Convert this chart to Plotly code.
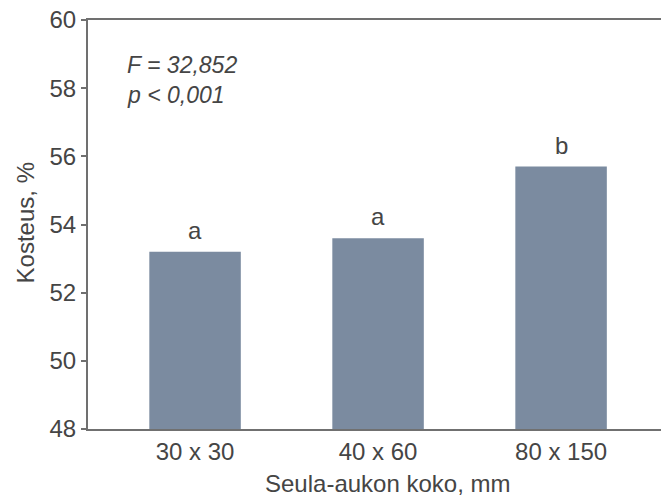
import plotly.graph_objects as go

categories = ["30 x 30", "40 x 60", "80 x 150"]
values = [53.2, 53.6, 55.7]
letters = ["a", "a", "b"]
y_ticks = [48, 50, 52, 54, 56, 58, 60]

txt = "#454545"
axc = "#707070"
font = "Arial, Liberation Sans, sans-serif"
fs = 24

fig = go.Figure(go.Bar(
    x=categories, y=values, width=0.5,
    marker=dict(color="#7b8ba0", line=dict(width=0)),
))

for c, v, l in zip(categories, values, letters):
    fig.add_annotation(x=c, y=v, text=l, showarrow=False, yanchor="bottom",
                       yshift=6, font=dict(size=fs, color=txt, family=font))

fig.add_annotation(xref="paper", yref="paper", x=0.064, y=0.89, xanchor="left",
                   yanchor="middle", text="<i>F = 32,852</i>", showarrow=False,
                   font=dict(size=23, color=txt, family=font))
fig.add_annotation(xref="paper", yref="paper", x=0.064, y=0.817, xanchor="left",
                   yanchor="middle", text="<i>p < 0,001</i>", showarrow=False,
                   font=dict(size=23, color=txt, family=font))

# axis titles
fig.add_annotation(xref="paper", yref="paper", x=0.522, y=-0.134, xanchor="center",
                   yanchor="middle", text="Seula-aukon koko, mm", showarrow=False,
                   font=dict(size=fs, color=txt, family=font))
fig.add_annotation(xref="paper", yref="paper", x=-0.11, y=0.505, xanchor="center",
                   yanchor="middle", text="Kosteus, %", textangle=-90, showarrow=False,
                   font=dict(size=fs, color=txt, family=font))

fig.update_layout(
    width=661, height=497,
    margin=dict(l=88, r=0, t=20, b=68),
    plot_bgcolor="white", paper_bgcolor="white",
    showlegend=False,
    font=dict(family=font, color=txt, size=fs),
    xaxis=dict(range=[-0.585, 2.546], showline=True, linecolor=axc, linewidth=2,
               mirror=True, ticks="", showgrid=False, zeroline=False,
               automargin=False, tickfont=dict(size=fs, color=txt)),
    yaxis=dict(range=[48, 60], tickvals=y_ticks, showline=True, linecolor=axc,
               linewidth=2, ticks="outside", ticklen=5, tickwidth=2, tickcolor=axc,
               showgrid=False, zeroline=False, automargin=False,
               tickfont=dict(size=fs, color=txt)),
)

fig.write_html("out.html", config={"displayModeBar": False},
               post_script="document.body.style.margin='0px';")
